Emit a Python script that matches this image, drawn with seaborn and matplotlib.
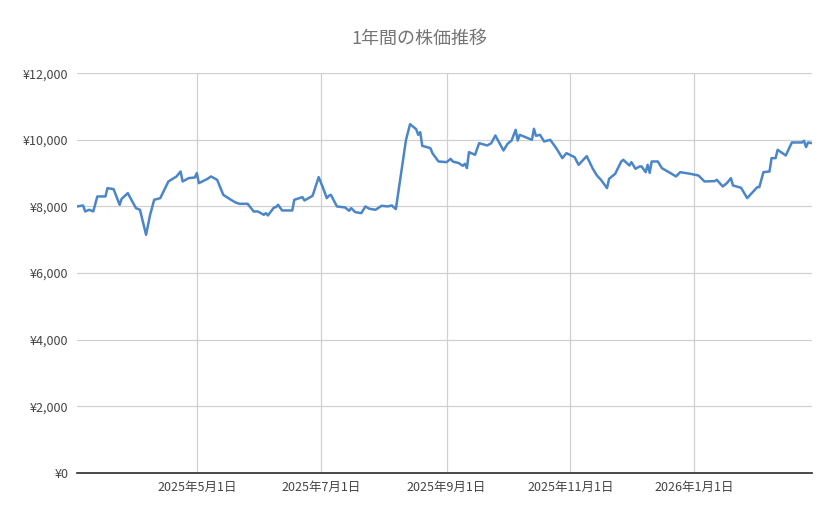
import matplotlib
matplotlib.use("Agg")
import matplotlib.pyplot as plt
import matplotlib.dates as mdates
import matplotlib.ticker as mticker
import seaborn as sns
import pandas as pd

start_date = "2025-03-03"
day_offsets = [0,3,4,6,8,10,14,15,18,21,22,25,29,31,34,36,38,41,45,49,51,52,55,58,59,60,64,66,69,72,75,78,80,84,87,89,92,93,94,97,98,99,101,106,107,111,112,116,119,121,123,124,
               125,128,132,134,135,137,140,142,144,147,150,153,155,157,162,164,167,168,169,170,174,175,178,182,184,185,188,190,191,192,193,196,198,202,204,206,210,212,214,216,217,218,224,225,226,228,230,233,236,239,241,
               245,247,251,254,256,258,261,262,265,268,269,272,273,275,277,278,280,281,282,283,286,288,292,295,297,302,306,309,314,315,318,320,322,323,327,330,335,336,338,341,342,344,345,349,352,357,358,359,360,362]
prices = [8000,8030,7850,7900,7850,8300,8300,8550,8520,8050,8230,8400,7950,7900,7150,7750,8200,8250,8750,8900,9050,8750,8850,8870,9000,8700,8820,8900,8800,8350,8230,8120,8080,8080,7850,7850,7750,7800,7730,7970,7980,8050,7880,7880,8200,8280,8180,8320,8880,8580,8250,8320,
          8350,8000,7970,7870,7950,7830,7800,8000,7930,7900,8020,8000,8030,7920,10000,10470,10320,10150,10230,9820,9750,9600,9350,9330,9430,9350,9300,9220,9280,9150,9630,9550,9900,9830,9900,10130,9680,9880,9980,10300,9980,10150,10000,10330,10120,10150,9950,10000,9750,9450,9600,
          9480,9250,9510,9130,8930,8800,8550,8830,8980,9350,9400,9230,9330,9130,9200,9200,9030,9250,9010,9350,9350,9150,9010,8900,9030,8980,8930,8750,8760,8800,8600,8700,8850,8630,8560,8250,8580,8580,9030,9050,9450,9450,9700,9530,9920,9920,9970,9780,9920,9900]
tick_dates = ["2025-05-01","2025-07-01","2025-09-01","2025-11-01","2026-01-01"]
tick_labels = ["2025年5月1日","2025年7月1日","2025年9月1日","2025年11月1日","2026年1月1日"]
title = "1年間の株価推移"

sns.set_theme(style="white")
plt.rcParams['font.family'] = ['Noto Sans CJK JP', 'DejaVu Sans']

df = pd.DataFrame({"date": pd.Timestamp(start_date) + pd.to_timedelta(day_offsets, unit="D"),
                   "price": prices})

fig = plt.figure(figsize=(8.39, 5.19), dpi=100)
ax = fig.add_axes([0.0918, 0.0886, 0.8762, 0.7704])
sns.lineplot(data=df, x="date", y="price", ax=ax, color="#4a86c8", linewidth=1.8)

ax.set_xlim(df["date"].iloc[0], df["date"].iloc[-1])
ax.set_ylim(0, 12000)
ax.set_yticks(range(0, 12001, 2000))
ax.yaxis.set_major_formatter(mticker.FuncFormatter(lambda v, p: f"¥{int(v):,}"))
ax.set_xticks(pd.to_datetime(tick_dates))
ax.set_xticklabels(tick_labels)
ax.grid(True, color="#d0d0d0", linewidth=0.9)
ax.set_axisbelow(True)
for s in ["top", "right", "left"]:
    ax.spines[s].set_visible(False)
ax.spines["bottom"].set_color("#333333")
ax.tick_params(axis="both", length=0, labelsize=9, colors="#444444", pad=6)
ax.set_xlabel("")
ax.set_ylabel("")
fig.text(0.5, 0.925, title, ha="center", va="center", fontsize=13, color="#757575")
fig.savefig("out.png", dpi=100)
